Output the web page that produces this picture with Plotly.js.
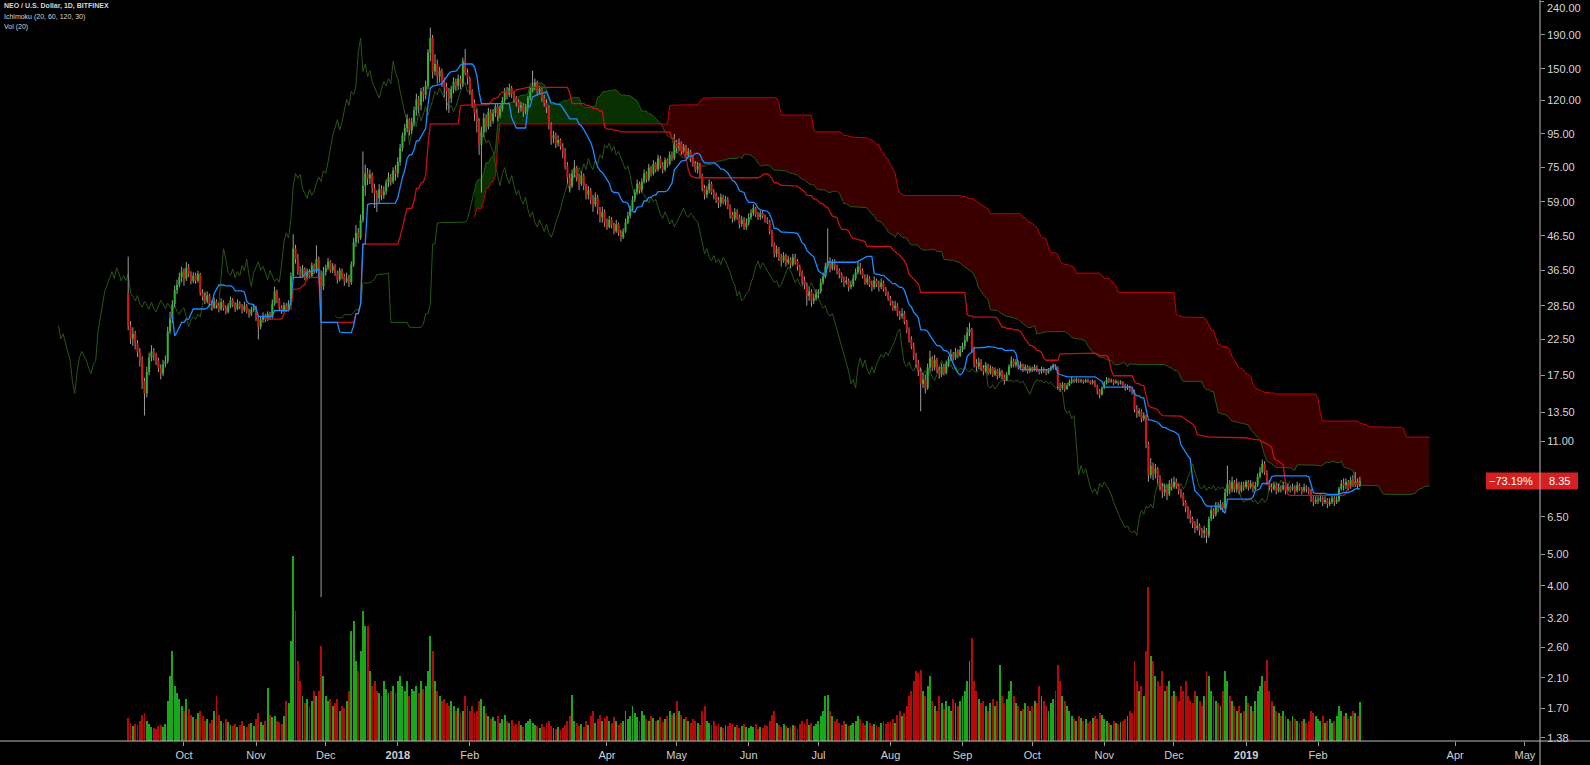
<!DOCTYPE html>
<html><head><meta charset="utf-8">
<script src="https://cdn.plot.ly/plotly-3.0.1.min.js"></script>
<style>html,body{margin:0;padding:0;background:#000;}#chart{width:1590px;height:765px;}</style>
</head><body><div id="chart"></div>
<script>
// ---- Data (daily, NEO/USD Bitfinex, from 2017-09-07) ----
const START_DATE = [2017, 8, 7];   // 2017-09-07 (UTC, month 0-based)
const FIRST_OPEN = 31.14;
const close = [
24.8,22.6,23.4,21.9,20.6,19.4,16.8,15.4,17.9,19.8,20.7,20.1,19.4,18.4,17.7,18.9,19.3,23.8,26.0,28.8,31.8,33.0,34.8,36.2,
34.5,37.2,35.8,33.9,35.2,34.0,35.6,31.2,30.4,29.5,30.6,28.9,28.2,29.4,28.6,27.8,29.2,28.0,27.3,28.4,29.6,28.8,27.9,29.0,28.3,27.6,28.5,27.4,26.8,27.7,28.1,
26.2,24.6,25.8,26.4,25.9,26.9,26.3,28.9,31.5,29.6,28.2,27.5,28.6,27.8,29.0,35.0,42.5,39.5,36.0,35.2,36.9,34.6,36.2,35.1,37.8,36.4,39.5,35.2,32.6,36.0,
37.2,38.8,36.5,37.6,35.9,34.2,36.5,35.0,33.8,34.5,33.6,38.0,44.5,47.5,45.8,52.0,66.0,72.0,69.5,71.5,65.0,62.5,60.5,64.5,61.8,63.5,67.5,70.2,68.0,73.5,72.0,
78,86,94,99,105,97.5,103,112,121,116,128,125,133,168,186,147,155,142,148,137,132,128,122,130,137,133,140,135,158,146,140,
128,118,110,104,88,96,106,100,111,104,110,115,108,113,120,128,125,131,126,122,119,114,116,111,115,122,128,133,
136,127,130,122,118,114,101,92,94,89,91,87,84,76,70,66,72,75,70,67,71,66,62,64,60,58,61,56,53,55,51,
49.5,52,50,48,50.5,47.5,46,48,51,53.5,56,60,63,67,64,68,72,69,75,72,77,74,80,76,74,79,77,82,80,88,
86,89,84,87,82,84,80,77,74,76,71,65,62,64,67,63,62,60,58.5,61,59,60,57,54,52.5,55,53,50.5,52,49.5,51,
53,54.5,56.5,54,53,54.5,53.5,52,51.5,48,44,41,42.5,40,39,40.5,38.5,39.5,38,40,39,37.5,36,34,33,30.5,31.5,29.5,30,31,
31.5,33.5,35,37.5,39,37,38.5,37.5,36.5,35.5,34.5,33.5,34,32.5,33,34.5,36,37.5,36.5,35,33.5,34.5,33,32.5,34,33,32.5,33.5,32,31,30,
29,28,28.5,27,26.5,27,25.5,24,22.5,21.5,20,19,18,16.5,17,16,18.5,19.8,18.5,19.5,18.2,17.6,18.6,17.8,18.9,19.6,20.3,19.8,20.6,20.1,20.9,
21.5,22.4,23.6,24.2,21.0,19.0,18.6,19.2,18.4,18.0,18.8,17.8,18.4,17.6,18.1,17.4,18.0,17.3,16.9,17.6,18.6,19.4,18.8,19.2,18.5,18.9,18.2,18.6,18.0,18.4,
18.2,18.6,18.1,17.9,18.3,18.0,17.8,18.2,18.4,18.7,18.5,16.2,16.0,16.4,15.9,16.3,16.7,16.9,16.8,17.0,16.8,16.9,16.7,16.9,16.8,16.6,16.8,16.3,15.7,15.3,16.0,
16.6,17.0,16.8,16.9,16.6,16.8,16.5,16.7,16.3,16.0,16.2,15.8,15.6,13.8,13.4,13.6,12.9,13.2,10.8,8.7,9.3,8.8,9.1,8.5,8.0,7.7,7.9,7.6,8.2,8.0,
8.3,8.1,7.8,7.6,7.2,6.9,6.6,6.4,6.2,6.0,6.1,5.9,5.8,5.9,5.7,6.4,6.8,6.6,7.0,6.9,7.1,6.9,7.7,8.2,7.9,8.3,7.9,8.2,7.8,8.1,8.0,
8.3,8.0,8.2,7.9,8.1,8.6,8.9,9.4,8.9,8.3,8.0,7.9,8.1,7.8,8.0,7.9,8.1,7.8,8.0,7.9,8.0,7.8,8.1,7.9,7.8,8.0,7.9,7.8,7.4,7.2,7.3,
7.3,7.4,7.2,7.3,7.1,7.2,7.4,7.2,7.3,7.9,8.2,8.1,8.3,8.0,8.4,8.2,8.3,8.1,8.35];
const high = [
40.2,25.6,24.5,23.9,22.4,21.2,20.0,17.2,18.6,20.5,21.6,21.2,20.5,19.8,18.9,19.5,20.1,24.6,27.3,29.6,32.9,34.2,35.9,37.5,
37.0,38.7,38.2,36.3,36.0,35.9,36.4,35.9,32.0,31.2,31.5,31.0,29.6,30.2,29.8,29.1,30.0,29.6,28.6,29.0,30.4,30.1,29.2,29.8,29.4,28.8,29.3,28.9,27.9,28.3,28.9,
28.5,26.6,26.4,27.2,26.9,27.4,27.3,29.8,32.6,31.9,30.1,28.6,29.2,29.0,29.6,36.0,47.0,43.7,41.0,37.6,37.9,37.3,37.0,36.8,38.6,38.3,43.5,40.2,36.5,37.4,
38.0,39.8,39.2,38.4,38.1,36.4,37.2,37.0,35.6,35.9,35.4,38.9,45.8,50.2,49.1,54.0,84.0,76.5,74.8,73.9,72.5,67.0,64.0,66.8,66.2,65.8,69.0,72.6,71.8,75.2,76.3,
80.5,88.5,96,102,109,106,106.5,115,126,124,131,132,138,172,200,190,166,160,152,150,141,136,131,133,141,140,144,143,162,172,150,
142,130,121,113,106,100,110,109,114,113,113,118,117,116,123,131,132,135,133,128,124,121,119,118,117,124,131,148,
140,138,133,131,125,121,116,103,97,96,94,92,89,86,78,72,74,79,76,72,73,72,67,66,65,62,63,62,57,57,56,
52.5,53.5,53,51,52,51,48.5,49,52.5,55,57.5,61.5,64.5,69,68,69.5,74,73,77,76,79,78,82,81.5,78,80.5,80,84,84,95,
91,92,90,88.5,88,86,85,81.5,78.5,78,77.5,72,66.5,66,69,68,64.5,63,61,62.5,62,61.5,61,58,55,56.5,56,54,53.5,53,52.5,
54.5,56,58,57,55,55.5,55.5,54,53,52,48.5,44.5,43.5,43,41,41.5,41,40.5,40,41,41,39.5,38,36.5,35,33.5,32.5,32,31,32,
32,34.5,36,38.5,49,40,39.5,39.5,38,37,36,35,35,34.5,34,35.5,37,39,38.5,37,35.5,35.5,35,34,35,34.5,34,34.5,34,32.5,31.5,
30.5,29.5,29.5,29,27.5,28,27.5,25.8,24.5,23,22,20.5,19.5,18.5,17.8,17.6,19,20.8,20,20.2,19.8,18.6,19,18.9,19.4,20,21,20.6,21.2,21,21.5,
22,23.2,24.5,25.3,24.4,21.4,19.6,19.8,19.6,18.8,19.2,19,18.8,18.6,18.5,18.3,18.4,18.2,17.6,17.9,18.9,20,19.7,19.6,19.4,19.3,19,18.9,18.8,18.7,
18.6,18.9,18.8,18.3,18.6,18.5,18.2,18.4,18.7,19.0,18.9,18.6,16.6,16.7,16.6,16.6,17.0,17.3,17.1,17.2,17.1,17.1,17.0,17.1,17.1,16.9,17.0,16.9,16.4,15.9,16.2,
16.8,17.3,17.2,17.1,17.0,17.0,16.9,16.9,16.8,16.5,16.4,16.3,16.0,15.8,14.2,13.9,13.8,13.5,13.3,11.0,9.8,9.5,9.4,9.2,8.7,8.2,8.2,8.1,8.4,8.5,
8.6,8.5,8.2,7.9,7.7,7.3,7.0,6.8,6.5,6.3,6.4,6.2,6.0,6.1,6.0,6.5,7.0,6.9,7.2,7.2,7.3,7.2,7.9,9.3,8.4,8.6,8.4,8.5,8.3,8.3,8.3,
8.4,8.4,8.4,8.3,8.3,8.8,9.2,9.7,9.6,9.0,8.4,8.2,8.3,8.2,8.2,8.1,8.3,8.2,8.2,8.1,8.2,8.1,8.3,8.2,8.0,8.2,8.1,8.0,7.9,7.5,7.5,
7.5,7.6,7.5,7.5,7.4,7.4,7.6,7.5,7.5,8.0,8.4,8.5,8.5,8.4,8.6,8.7,8.9,8.5,8.6];
const low = [
24.0,21.8,21.5,21.0,19.9,18.6,15.9,13.2,15.0,17.5,19.3,19.4,18.8,17.9,17.0,17.4,18.5,19.0,23.4,25.2,28.2,30.9,32.4,33.6,
32.8,33.9,34.8,33.1,33.4,33.2,33.5,30.6,29.6,28.8,29.0,28.4,27.6,27.9,28.0,27.2,27.5,27.5,26.8,27.0,28.0,28.2,27.3,27.6,27.8,27.0,27.3,27.0,26.2,26.5,27.3,
25.6,22.5,24.2,25.3,25.4,25.6,25.8,26.0,28.5,29.0,27.6,26.9,27.2,27.3,27.4,28.6,34.2,38.3,35.4,34.6,34.9,34.1,34.2,34.5,34.9,35.6,35.8,34.3,3.7,31.8,
35.2,36.6,35.9,35.8,35.1,33.3,33.8,34.3,32.8,33.4,32.5,33.0,37.4,43.0,44.1,45.2,51.0,61.5,66.4,66.8,62.8,56.5,55.0,58.5,59.6,60.2,62.0,65.4,66.1,66.9,68.5,
70,76,84,90,96,94,95,100,108,110,112,119,121,130,158,140,143,135,136,132,123,112,110,118,126,128,129,130,132,143,134,
125,114,104,96,82,63,93,96,98,100,102,107,104,106,111,118,121,123,122,118,115,110,111,107,109,113,120,127,
129,124,125,119,115,110,98,88,89,86,87,85,80,74,67,63,65,70,68,64,66,64,60,60,58,55,57,54,51,51,49.5,
48.5,49,49,47,47.5,46.5,44.7,45.5,47.5,50.5,52.5,55.5,59,62,62.5,63,67,67.5,68,70.5,71,72.5,73,74.5,72,73,75,76,78.5,79,
83,84,82,83,80,80.5,78,75.5,72.5,72,69.5,63.5,60,60.5,62.5,62,60,58.5,56.5,57,58,57.5,56,52.5,51,51.5,52,49,49.5,48.5,48.5,
50,52,53.5,53,52,52,52.5,51,50.5,47,43,40,40,39,37.5,38.5,37.5,38,37,37.5,38,36.5,35,33,32,28.5,29.5,28.3,28.8,29.5,
30,31,33,34.5,37,36,36.5,36.5,35.5,34.5,33.5,32.5,33,31.5,32,32.5,34,35.5,35.5,34.5,33,33,32.5,31.5,32,32.5,31.5,32,31.5,30.5,29.5,
28.5,27.5,27.5,26.5,25.8,26,25,23.5,22,21,19.5,18.5,17.4,13.6,16,15.4,15.8,18,18,18.1,17.8,17.1,17.3,17.5,17.6,18.6,19.3,19.4,19.5,19.7,19.9,
20.6,21,22.1,23,20.5,18.5,18,18.3,18,17.5,17.8,17.5,17.6,17.3,17.4,17,17.2,17,16.4,16.8,17.5,18.4,18.5,18.5,18.2,18.3,17.9,18,17.7,17.8,
17.9,18.0,17.9,17.6,17.7,17.8,17.5,17.7,18.0,18.2,18.2,15.8,15.6,15.8,15.6,15.8,16.2,16.5,16.6,16.6,16.6,16.6,16.5,16.6,16.6,16.4,16.4,16.1,15.3,14.9,15.2,
15.9,16.4,16.6,16.6,16.3,16.5,16.3,16.4,16.1,15.7,15.8,15.6,15.3,13.5,13.0,13.1,12.6,12.7,10.5,8.3,8.5,8.4,8.5,8.2,7.8,7.4,7.5,7.3,7.5,7.8,
7.9,7.9,7.6,7.4,7.0,6.7,6.4,6.2,6.0,5.8,5.9,5.7,5.6,5.6,5.4,5.6,6.3,6.4,6.5,6.7,6.8,6.7,6.8,7.5,7.6,7.7,7.7,7.7,7.6,7.7,7.8,
7.9,7.8,7.9,7.7,7.8,8.0,8.5,8.8,8.7,8.1,7.8,7.7,7.8,7.6,7.7,7.7,7.8,7.6,7.7,7.7,7.8,7.6,7.7,7.8,7.6,7.7,7.7,7.6,7.2,7.0,7.1,
7.1,7.2,7.0,7.1,6.9,7.0,7.1,7.0,7.1,7.2,7.8,7.8,7.9,7.8,7.9,8.0,8.0,7.9,8.0];
const volume = [
230,180,150,170,160,200,260,280,200,170,140,130,120,150,160,140,170,400,650,900,550,480,420,350,
300,420,320,260,240,220,280,300,250,200,220,180,210,300,450,260,200,180,220,190,160,150,170,140,160,200,150,140,170,180,150,
220,280,190,160,200,530,260,240,250,200,190,170,250,400,380,1000,1850,1300,800,600,450,380,420,350,400,500,450,500,950,650,
450,400,420,350,380,420,300,350,330,400,500,1100,1200,800,700,900,1300,1150,1150,700,550,600,500,480,450,600,520,480,500,550,480,
600,650,550,500,600,450,520,500,550,480,600,520,550,700,1050,900,600,500,450,400,420,380,350,400,350,300,330,280,300,450,350,
300,350,280,300,400,420,350,280,250,220,240,200,250,180,220,260,200,180,210,150,170,200,160,140,180,200,220,180,
160,150,130,170,140,180,200,150,130,120,140,110,130,160,200,250,460,200,180,150,170,140,200,160,250,300,180,220,260,200,230,
250,200,180,240,200,160,180,200,300,220,250,350,280,240,200,300,260,220,200,250,230,200,210,240,190,220,250,300,260,280,
400,300,260,220,240,200,180,220,200,180,160,300,350,200,180,160,200,150,170,140,130,160,150,180,170,140,160,130,150,170,140,
130,150,140,170,120,140,130,160,150,200,260,300,180,160,140,170,150,130,140,160,150,120,170,200,180,220,160,180,150,170,
200,250,300,450,460,300,250,200,220,180,160,200,170,150,160,180,200,250,220,180,160,200,180,150,170,160,140,180,200,170,190,
200,220,180,260,300,250,280,350,450,500,600,700,680,710,500,450,550,650,400,350,300,450,380,320,400,350,300,420,380,350,400,
450,500,600,800,1030,600,500,420,380,400,350,300,380,420,350,400,760,450,380,420,500,600,450,380,350,300,320,380,350,300,
350,400,380,550,450,400,350,300,380,420,500,760,600,450,400,350,300,250,220,200,250,230,200,220,180,200,230,250,220,280,260,
220,200,180,160,200,180,170,190,200,220,250,300,280,800,600,500,550,450,900,1540,850,800,650,600,550,700,500,550,600,450,
500,450,400,550,500,600,450,400,380,500,450,400,350,450,700,650,500,450,400,380,350,500,700,600,450,400,350,300,350,280,300,
450,380,350,300,400,500,550,650,600,810,500,400,350,300,280,250,300,250,220,200,250,220,200,180,200,220,180,200,300,280,250,
220,200,250,180,200,220,180,200,250,350,300,250,280,220,250,300,280,250,390];

const monthTickDates = ['2017-10-01','2017-11-01','2017-12-01','2018-01-01','2018-02-01','2018-04-01','2018-05-01','2018-06-01','2018-07-01','2018-08-01','2018-09-01','2018-10-01','2018-11-01','2018-12-01','2019-01-01','2019-02-01','2019-04-01','2019-05-01'];
const monthTickLabels = ['Oct','Nov','Dec','<b>2018</b>','Feb','Apr','May','Jun','Jul','Aug','Sep','Oct','Nov','Dec','<b>2019</b>','Feb','Apr','May'];
const priceTicks = [1.38,1.7,2.1,2.6,3.2,4,5,6.5,11,13.5,17.5,22.5,28.5,36.5,46.5,59,75,95,120,150,190];
const topPriceTick = 240;
const ICHI = {conv:20, base:60, spanB:120, disp:30};
const legendLines = ['<b>NEO / U.S. Dollar, 1D, BITFINEX</b>','Ichimoku (20, 60, 120, 30)','Vol (20)'];

// ---- Derived series ----
const DAY = 86400000;
const t0 = Date.UTC(START_DATE[0], START_DATE[1], START_DATE[2]);
const iso = ms => new Date(ms).toISOString().slice(0,10);
const n = close.length;
if (high.length!==n || low.length!==n || volume.length!==n) console.error('length mismatch', n, high.length, low.length, volume.length);
const dates = close.map((_,i)=>iso(t0+i*DAY));
const open = close.map((c,i)=> i===0 ? FIRST_OPEN : close[i-1]);
const hi = high.map((h,i)=>Math.max(h, open[i], close[i]));
const lo = low.map((l,i)=>Math.min(l, open[i], close[i]));

function donchian(p, i){ let h=-Infinity,l=Infinity; for(let j=i-p+1;j<=i;j++){ if(hi[j]>h)h=hi[j]; if(lo[j]<l)l=lo[j]; } return (h+l)/2; }
const conv = close.map((_,i)=> i>=ICHI.conv-1 ? donchian(ICHI.conv,i) : null);
const base = close.map((_,i)=> i>=ICHI.base-1 ? donchian(ICHI.base,i) : null);
const leadDates = close.map((_,i)=>iso(t0+(i+ICHI.disp)*DAY));
const spanA = close.map((_,i)=> (conv[i]!=null && base[i]!=null) ? (conv[i]+base[i])/2 : null);
const spanB = close.map((_,i)=> i>=ICHI.spanB-1 ? donchian(ICHI.spanB,i) : null);
const lagDates = close.map((_,i)=>iso(t0+(i-ICHI.disp)*DAY));
const cStart = ICHI.spanB-1;
const cX = leadDates.slice(cStart), cA = spanA.slice(cStart), cB = spanB.slice(cStart);
const cMax = cA.map((a,i)=>Math.max(a, cB[i]));

const UP='#2fb52f', DN='#dc1414', VUP='#19a819', VDN='#b80808', WICK='#9c9c9c';
const FONT = '"Liberation Sans", Arial, sans-serif';

// wick and body segments (scatter, drawn in order: wicks under bodies)
const wx=[], wy=[], ux=[], uy=[], dx=[], dy=[];
for(let i=0;i<n;i++){
  wx.push(dates[i],dates[i],null); wy.push(lo[i],hi[i],null);
  const o=open[i], c=close[i];
  let b0=Math.min(o,c), b1=Math.max(o,c);
  if (b1/b0 < 1.006) { const m=Math.sqrt(b0*b1); b0=m/1.003; b1=m*1.003; }
  if (c>=o){ ux.push(dates[i],dates[i],null); uy.push(b0,b1,null); }
  else { dx.push(dates[i],dates[i],null); dy.push(b0,b1,null); }
}

const traces = [
  {type:'bar', x:dates, y:volume, yaxis:'y2', width:0.82*DAY, marker:{color:close.map((c,i)=>c>=open[i]?VUP:VDN), line:{width:0}}, hoverinfo:'skip'},
  {type:'scatter', mode:'lines', x:cX, y:cA, line:{width:0, color:'rgba(0,0,0,0)'}, hoverinfo:'skip'},
  {type:'scatter', mode:'lines', x:cX, y:cMax, fill:'tonexty', fillcolor:'#3a0000', line:{width:0, color:'rgba(0,0,0,0)'}, hoverinfo:'skip'},
  {type:'scatter', mode:'lines', x:cX, y:cB, line:{width:0, color:'rgba(0,0,0,0)'}, hoverinfo:'skip'},
  {type:'scatter', mode:'lines', x:cX, y:cMax, fill:'tonexty', fillcolor:'#083000', line:{width:0, color:'rgba(0,0,0,0)'}, hoverinfo:'skip'},
  {type:'scatter', mode:'lines', x:lagDates, y:close, line:{width:1, color:'#2b5512'}, hoverinfo:'skip'},
  {type:'scatter', mode:'lines', x:leadDates, y:spanA, line:{width:1, color:'#245a10'}, hoverinfo:'skip', connectgaps:false},
  {type:'scatter', mode:'lines', x:leadDates, y:spanB, line:{width:1, color:'#c40000'}, hoverinfo:'skip', connectgaps:false},
  {type:'scatter', mode:'lines', x:wx, y:wy, line:{width:1, color:WICK}, hoverinfo:'skip', connectgaps:false},
  {type:'scatter', mode:'lines', x:ux, y:uy, line:{width:2, color:UP}, hoverinfo:'skip', connectgaps:false},
  {type:'scatter', mode:'lines', x:dx, y:dy, line:{width:2, color:DN}, hoverinfo:'skip', connectgaps:false},
  {type:'scatter', mode:'lines', x:dates, y:base, line:{width:1.3, color:'#c81010'}, hoverinfo:'skip', connectgaps:false},
  {type:'scatter', mode:'lines', x:dates, y:conv, line:{width:1.3, color:'#1a8cff'}, hoverinfo:'skip', connectgaps:false}
];

const yr = [Math.log10(1.35), Math.log10(242.7)];
const plotW = 1540, plotH = 741;
const last = close[n-1];
const pct = (last/FIRST_OPEN - 1)*100;
const yp = (Math.log10(last)-yr[0])/(yr[1]-yr[0]);
const hb = 8.5/plotH;

const annotations = legendLines.map((t,k)=>({xref:'paper', yref:'paper', x:0, y:1, xanchor:'left', yanchor:'top', xshift:2, yshift:-(k*10.5), text:t, showarrow:false, font:{family:FONT, size:7, color:'#d6d6d6'}}));
annotations.push({xref:'paper', yref:'paper', x:1, xshift:5, y:1, yanchor:'top', xanchor:'left', text:topPriceTick.toFixed(2), showarrow:false, font:{family:FONT, size:11, color:'#d6d6d6'}});
annotations.push({xref:'paper', yref:'paper', x:1535/plotW, y:yp, xanchor:'right', yanchor:'middle', text:(pct<0?'\u2212':'+')+Math.abs(pct).toFixed(2)+'%', showarrow:false, font:{family:FONT, size:11, color:'#ffffff'}});
annotations.push({xref:'paper', yref:'paper', x:1547/plotW, y:yp, xanchor:'left', yanchor:'middle', text:last.toFixed(2), showarrow:false, font:{family:FONT, size:11, color:'#ffffff'}});

const shapes = [
  {type:'rect', xref:'paper', yref:'paper', x0:1486/plotW, x1:1578/plotW, y0:yp-hb, y1:yp+hb, fillcolor:'#d42020', line:{width:0}, layer:'above'},
  {type:'line', xref:'paper', yref:'paper', x0:1, x1:1, y0:-24/plotH, y1:1, line:{color:'#bdbdbd', width:1}},
  {type:'line', xref:'paper', yref:'paper', x0:0, x1:1590/plotW, y0:0, y1:0, line:{color:'#bdbdbd', width:1}},
  {type:'line', xref:'paper', yref:'y', x0:1, x1:1+4/plotW, y0:topPriceTick, y1:topPriceTick, line:{color:'#9a9a9a', width:1}}
];

const layout = {
  width:1590, height:765, paper_bgcolor:'#000', plot_bgcolor:'#000',
  margin:{l:0, r:50, t:0, b:24}, showlegend:false, barmode:'overlay', bargap:0,
  font:{family:FONT, color:'#cfcfcf'},
  xaxis:{type:'date', range:['2017-07-13 20:00','2019-05-07 12:00'], tickmode:'array', tickvals:monthTickDates, ticktext:monthTickLabels,
         ticks:'outside', ticklen:4, tickcolor:'#9a9a9a', tickfont:{family:FONT, size:11, color:'#cfcfcf'}, showgrid:false, zeroline:false, showline:false, fixedrange:true},
  yaxis:{type:'log', side:'right', range:yr, tickmode:'array', tickvals:priceTicks, ticktext:priceTicks.map(v=>v.toFixed(2)),
         ticks:'outside', ticklen:4, tickcolor:'#9a9a9a', tickfont:{family:FONT, size:11, color:'#d6d6d6'}, showgrid:false, zeroline:false, showline:false, fixedrange:true},
  yaxis2:{overlaying:'y', range:[0, 7400], visible:false, fixedrange:true},
  shapes, annotations
};
Plotly.newPlot('chart', traces, layout, {displayModeBar:false, staticPlot:true});
</script></body></html>
